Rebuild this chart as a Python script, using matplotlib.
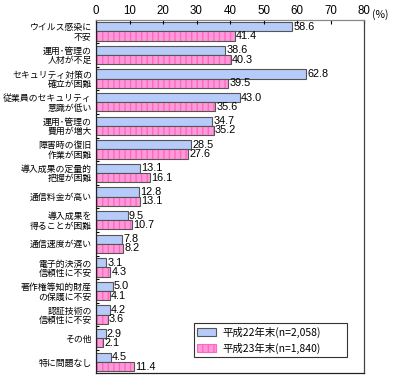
import numpy as np
import matplotlib
matplotlib.use('Agg')
import matplotlib.pyplot as plt
from matplotlib.patches import Patch

plt.rcParams['font.family'] = ['Noto Sans CJK JP', 'DejaVu Sans']

# ── data ─────────────────────────────────────────────────────────────────────
categories = [
    'ウイルス感染に\n不安',
    '運用･管理の\n人材が不足',
    'セキュリティ対策の\n確立が困難',
    '従業員のセキュリティ\n意識が低い',
    '運用･管理の\n費用が増大',
    '障害時の復旧\n作業が困難',
    '導入成果の定量的\n把握が困難',
    '通信料金が高い',
    '導入成果を\n得ることが困難',
    '通信速度が遅い',
    '電子的決済の\n信頼性に不安',
    '著作権等知的財産\nの保護に不安',
    '認証技術の\n信頼性に不安',
    'その他',
    '特に問題なし',
]
h22 = [58.6, 38.6, 62.8, 43.0, 34.7, 28.5, 13.1, 12.8, 9.5, 7.8, 3.1, 5.0, 4.2, 2.9, 4.5]
h23 = [41.4, 40.3, 39.5, 35.6, 35.2, 27.6, 16.1, 13.1, 10.7, 8.2, 4.3, 4.1, 3.6, 2.1, 11.4]
series_labels = ['平成22年末(n=2,058)', '平成23年末(n=1,840)']
xticks = [0, 10, 20, 30, 40, 50, 60, 70, 80]

BLUE = '#b6cbf9'
PINK = '#ff9ad8'
PINK_LINE = '#ff66c6'
EDGE = '#555555'

fig = plt.figure(figsize=(3.98, 3.80), dpi=100)
ax = fig.add_axes([96 / 398, 1 - 373 / 380, 268 / 398, 353 / 380])

y = np.arange(len(categories))
bh = 0.39

ax.barh(y - bh / 2, h22, height=bh, color=BLUE, edgecolor=EDGE, linewidth=0.8)
# pink bars: hatched fill first, then a dark outline
ax.barh(y + bh / 2, h23, height=bh, color=PINK, edgecolor=PINK_LINE,
        hatch='|||', linewidth=0)
ax.barh(y + bh / 2, h23, height=bh, fill=False, edgecolor=EDGE, linewidth=0.8)

for yi, v in zip(y, h22):
    ax.text(v + 0.3, yi - bh / 2, f'{v:.1f}', va='center', ha='left',
            fontsize=7.8, family='Liberation Sans')
for yi, v in zip(y, h23):
    ax.text(v + 0.3, yi + bh / 2, f'{v:.1f}', va='center', ha='left',
            fontsize=7.8, family='Liberation Sans')

ax.set_xlim(0, 80)
ax.set_ylim(len(categories) - 0.53, -0.48)

ax.xaxis.tick_top()
ax.set_xticks(xticks)
ax.set_xticklabels([str(t) for t in xticks], family='Liberation Sans', fontsize=8.3)
ax.tick_params(axis='x', direction='in', length=3, pad=2, width=0.8)
ax.text(1.03, 1.0, '(%)', transform=ax.transAxes, fontsize=7.5,
        ha='left', va='bottom')

ax.set_yticks(y)
ax.set_yticklabels(categories, fontsize=6.4, linespacing=1.05)
ax.tick_params(axis='y', length=0, pad=3)
ax.set_yticks(y[:-1] + 0.5, minor=True)
ax.tick_params(axis='y', which='minor', direction='in', length=2, width=0.8)

for side in ['top', 'right', 'bottom', 'left']:
    ax.spines[side].set_linewidth(0.9)
ax.spines['top'].set_color('#888888')
ax.spines['right'].set_color('#444444')
ax.spines['bottom'].set_color('#222222')
ax.spines['left'].set_color('#222222')

handles = [
    Patch(facecolor=BLUE, edgecolor=EDGE, linewidth=0.8),
    Patch(facecolor=PINK, edgecolor=PINK_LINE, hatch='|||', linewidth=0.8),
]
leg = ax.legend(handles, series_labels, loc='lower left',
                bbox_to_anchor=(0.345, 0.03, 0.61, 0.09), mode='expand',
                fontsize=7.5, frameon=True, fancybox=False, framealpha=1,
                edgecolor='#333333', handlelength=1.8, handleheight=0.9,
                borderpad=0.35, labelspacing=0.45, handletextpad=0.6)
leg.get_frame().set_linewidth(0.8)

fig.savefig('out.png', dpi=100)
